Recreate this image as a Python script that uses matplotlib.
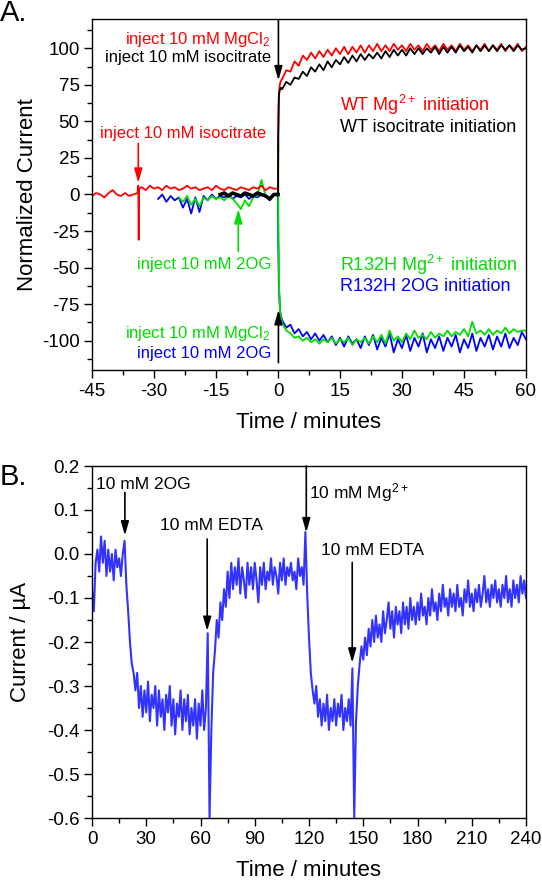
import numpy as np
import matplotlib
matplotlib.use("Agg")
import matplotlib.pyplot as plt
from matplotlib.ticker import MultipleLocator, FormatStrFormatter

plt.rcParams['font.family'] = ['Liberation Sans', 'DejaVu Sans']
plt.rcParams['mathtext.fontset'] = 'custom'
plt.rcParams['mathtext.rm'] = 'Liberation Sans'
plt.rcParams['mathtext.it'] = 'Liberation Sans:italic'
plt.rcParams['axes.unicode_minus'] = False

RED = '#ff0000'
GREEN = '#00dd00'
BLUE = '#0000ff'

###############################
##### PANEL A DATA ############
###############################

# WT, Mg2+ initiation (red)
red_t = np.r_[np.arange(-45, -34), -34, -33.8, -33.7, -33.6, np.arange(-33, 0),
              0, 0.05, 0.15, 0.3, 0.5, 0.75, np.arange(1, 61)]
red_v = [-1, 1, 0, -2, 1, 3, 0, -1, 1, -1, 0,
         1, 6, -31, 4,
         5, 3, 6, 4, 5, 3, 6, 4, 5, 3, 4, 6, 4, 5, 3, 4, 5,
         3, 6, 4, 3, 5, 4, 3, 5, 4, 3, 5, 4, 6, 3, 5, 4,
         4, 30, 60, 72, 76, 78,
         79, 85, 84, 91, 88, 95, 92, 97, 93, 98,
         94, 99, 95, 100, 96, 101, 96, 101, 97, 102,
         97, 102, 98, 103, 98, 102, 98, 103, 99, 102,
         98, 103, 99, 102, 98, 103, 99, 102, 98, 103,
         99, 102, 98, 103, 99, 102, 98, 102, 99, 103,
         98, 102, 99, 103, 98, 102, 99, 103, 98, 101]

# WT, isocitrate initiation (black): flat baseline, then the rise
blk_pre_t = np.arange(-14, 1)
blk_pre_v = [0, 1, -1, 1, 0, -1, 1, 0, -1, 1, 0, -1, -3, 0, 0]
blk_t = np.r_[0, 0.05, 0.2, 0.4, 0.7, np.arange(1, 61)]
blk_v = [0, 40, 68, 71, 73,
         72, 77, 75, 80, 79, 84, 81, 87, 84, 89,
         85, 91, 87, 92, 89, 94, 90, 95, 91, 96,
         92, 96, 93, 97, 93, 98, 94, 99, 95, 99,
         95, 100, 96, 100, 96, 100, 97, 101, 96, 101,
         97, 101, 97, 102, 98, 101, 97, 102, 98, 102,
         98, 102, 98, 102, 99, 102, 98, 102, 99, 100]

# R132H, 2OG initiation (blue)
blu_t = np.r_[np.arange(-29, 0), 0, 0.05, 0.2, 0.5, np.arange(1, 61)]
blu_v = [-3, 0, -5, -1, -4, -2, -9, -3, -13, -2,
         -12, -1, -4, 0, -3, -1, -2, 0, -3, -1,
         -2, 0, -3, -1, -2, 0, -1, -4, 0,
         -1, -30, -62, -80,
         -86, -91, -89, -95, -92, -97, -94, -99, -95, -100,
         -96, -101, -97, -103, -98, -104, -97, -102, -99, -105,
         -97, -103, -96, -106, -98, -104, -95, -108, -99, -105,
         -96, -107, -98, -104, -95, -108, -99, -105, -97, -107,
         -98, -104, -96, -108, -99, -105, -95, -107, -98, -104,
         -96, -106, -97, -104, -95, -105, -98, -103, -94, -99]

# R132H, Mg2+ initiation (green)
grn_t = np.r_[np.arange(-24, 0), 0, 0.05, 0.1, 0.25, 0.5, np.arange(1, 61)]
grn_v = [-2, -5, -1, -7, -3, -8, -2, -4, -1, -3,
         -2, -4, -1, -3, -6, -10, -4, -8, -2, -1,
         10, -1, -2, 0,
         1, 35, -20, -62, -80,
         -88, -93, -95, -98, -97, -100, -98, -101, -99, -102,
         -99, -101, -98, -102, -99, -101, -98, -103, -99, -101,
         -98, -102, -97, -101, -96, -102, -93, -100, -97, -101,
         -95, -99, -93, -98, -96, -99, -94, -98, -95, -97,
         -93, -97, -94, -96, -92, -97, -87, -95, -93, -96,
         -92, -96, -93, -95, -91, -95, -92, -94, -93, -93]

###############################
##### PANEL B DATA ############
###############################

b_t = np.arange(0, 241)
b_v = [-0.08, -0.13, -0.02, 0.01, -0.04, 0.04, -0.02, 0.03, -0.05, 0.01,
       -0.04, 0.00, -0.06, 0.01, -0.03, -0.01, -0.05, 0.00, 0.03, -0.07,
       -0.13, -0.20, -0.25, -0.27, -0.31, -0.27, -0.35, -0.30, -0.37, -0.31,
       -0.36, -0.29, -0.38, -0.32, -0.35, -0.30, -0.39, -0.31, -0.37, -0.33,
       -0.40, -0.32, -0.36, -0.30, -0.39, -0.33, -0.41, -0.34, -0.37, -0.31,
       -0.40, -0.33, -0.38, -0.32, -0.41, -0.35, -0.39, -0.33, -0.42, -0.34,
       -0.39, -0.31, -0.40, -0.35, -0.18, -0.60, -0.40, -0.27, -0.22, -0.15,
       -0.19, -0.11, -0.15, -0.08, -0.12, -0.04, -0.10, -0.02, -0.08, -0.03,
       -0.07, -0.01, -0.09, -0.03, -0.06, -0.10, -0.02, -0.07, -0.03, -0.08,
       -0.02, -0.06, -0.11, -0.03, -0.07, -0.02, -0.08, -0.04, -0.06, -0.01,
       -0.07, -0.03, -0.05, -0.09, -0.02, -0.06, -0.01, -0.07, -0.03, -0.05,
       -0.02, -0.06, -0.04, -0.08, -0.01, -0.05, -0.03, -0.07, 0.05, -0.09,
       -0.19, -0.27, -0.31, -0.34, -0.30, -0.37, -0.33, -0.39, -0.34, -0.38,
       -0.32, -0.40, -0.35, -0.38, -0.33, -0.39, -0.34, -0.37, -0.32, -0.40,
       -0.35, -0.38, -0.33, -0.39, -0.26, -0.60, -0.38, -0.30, -0.25, -0.21,
       -0.24, -0.19, -0.23, -0.17, -0.21, -0.15, -0.20, -0.14, -0.19, -0.16,
       -0.20, -0.13, -0.18, -0.15, -0.11, -0.17, -0.13, -0.19, -0.12, -0.16,
       -0.13, -0.18, -0.11, -0.16, -0.12, -0.17, -0.10, -0.15, -0.12, -0.16,
       -0.11, -0.15, -0.09, -0.14, -0.12, -0.16, -0.10, -0.14, -0.08, -0.13,
       -0.11, -0.15, -0.09, -0.13, -0.07, -0.12, -0.10, -0.14, -0.08, -0.12,
       -0.09, -0.13, -0.07, -0.12, -0.10, -0.14, -0.08, -0.11, -0.06, -0.12,
       -0.09, -0.13, -0.08, -0.11, -0.07, -0.12, -0.09, -0.05, -0.11, -0.08,
       -0.12, -0.07, -0.10, -0.06, -0.11, -0.08, -0.12, -0.07, -0.10, -0.05,
       -0.11, -0.08, -0.12, -0.06, -0.10, -0.07, -0.11, -0.05, -0.09, -0.06,
       -0.10]

###############################
##### FIGURE ##################
###############################

W, H = 542, 880
fig = plt.figure(figsize=(W / 100, H / 100), dpi=100)


def box(left, top, right, bottom):
    return [left / W, 1 - bottom / H, (right - left) / W, (bottom - top) / H]


axA = fig.add_axes(box(92, 19, 526, 370))
axB = fig.add_axes(box(92, 466, 526, 818))

for ax in (axA, axB):
    for s in ax.spines.values():
        s.set_linewidth(1.0)
    ax.tick_params(which='both', direction='out', top=False, right=False,
                   labelsize=13.5, width=1.0, pad=3)
    ax.tick_params(which='major', length=6)
    ax.tick_params(which='minor', length=3.5)


def arrow(ax, x, y0, y1, color):
    ax.annotate('', xy=(x, y1), xytext=(x, y0),
                arrowprops=dict(arrowstyle='-|>,head_length=0.7,head_width=0.2',
                                mutation_scale=12, color=color, lw=1.2,
                                shrinkA=0, shrinkB=0))


# ---- panel A
axA.plot(blu_t, blu_v, color=BLUE, lw=1.3)
axA.plot(grn_t, grn_v, color=GREEN, lw=1.3)
axA.plot(red_t, red_v, color=RED, lw=1.3)
axA.plot(blk_pre_t, blk_pre_v, color='black', lw=2.6)
axA.plot(blk_t, blk_v, color='black', lw=1.3)

axA.set_xlim(-45, 60)
axA.set_ylim(-120, 120)
axA.xaxis.set_major_locator(MultipleLocator(15))
axA.xaxis.set_minor_locator(MultipleLocator(7.5))
axA.yaxis.set_major_locator(MultipleLocator(25))
axA.yaxis.set_minor_locator(MultipleLocator(12.5))
axA.set_yticks([-100, -75, -50, -25, 0, 25, 50, 75, 100])
axA.set_xlabel('Time / minutes', fontsize=16)
axA.set_ylabel('Normalized Current', fontsize=16)

arrow(axA, 0.1, 119, 78, 'black')
arrow(axA, 0.1, -115, -79, 'black')
arrow(axA, -33.8, 35, 8, RED)
arrow(axA, -9.6, -39, -10, GREEN)

fs = 12
axA.text(-1.7, 106, 'inject 10 mM MgCl$_2$', color=RED, fontsize=fs, ha='right', va='center')
axA.text(-1.7, 94, 'inject 10 mM isocitrate', color='black', fontsize=fs, ha='right', va='center')
axA.text(-43, 42, 'inject 10 mM isocitrate', color=RED, fontsize=fs, ha='left', va='center')
axA.text(-34, -48, 'inject 10 mM 2OG', color=GREEN, fontsize=fs, ha='left', va='center')
axA.text(-1.7, -95, 'inject 10 mM MgCl$_2$', color=GREEN, fontsize=fs, ha='right', va='center')
axA.text(-1.7, -108.5, 'inject 10 mM 2OG', color=BLUE, fontsize=fs, ha='right', va='center')

fl = 13
axA.text(15, 61, 'WT Mg$^{2+}$ initiation', color=RED, fontsize=fl, ha='left', va='center')
axA.text(15, 46, 'WT isocitrate initiation', color='black', fontsize=fl, ha='left', va='center')
axA.text(15, -48, 'R132H Mg$^{2+}$ initiation', color=GREEN, fontsize=fl, ha='left', va='center')
axA.text(15, -63, 'R132H 2OG initiation', color=BLUE, fontsize=fl, ha='left', va='center')

# ---- panel B
axB.plot(b_t, b_v, color=BLUE, lw=1.5, alpha=0.8)
axB.set_xlim(0, 240)
axB.set_ylim(-0.6, 0.2)
axB.xaxis.set_major_locator(MultipleLocator(30))
axB.xaxis.set_minor_locator(MultipleLocator(15))
axB.yaxis.set_major_locator(MultipleLocator(0.1))
axB.yaxis.set_minor_locator(MultipleLocator(0.05))
axB.yaxis.set_major_formatter(FormatStrFormatter('%.1f'))
axB.set_xlabel('Time / minutes', fontsize=16)
axB.set_ylabel('Current / \u00b5A', fontsize=16)

arrow(axB, 18.2, 0.14, 0.042, 'black')
arrow(axB, 63.7, 0.034, -0.175, 'black')
arrow(axB, 118.5, 0.2, 0.049, 'black')
arrow(axB, 143.9, -0.019, -0.247, 'black')

fb = 12.5
axB.text(2.3, 0.159, '10 mM 2OG', fontsize=fb, ha='left', va='center')
axB.text(37.7, 0.065, '10 mM EDTA', fontsize=fb, ha='left', va='center')
axB.text(120, 0.14, '10 mM Mg$^{2+}$', fontsize=fb, ha='left', va='center')
axB.text(126.7, 0.008, '10 mM EDTA', fontsize=fb, ha='left', va='center')

axA.yaxis.set_label_coords(-0.125, 0.5)
axB.yaxis.set_label_coords(-0.14, 0.5)
axA.xaxis.set_label_coords(0.5, -0.12)
axB.xaxis.set_label_coords(0.5, -0.12)

fig.text(0.0, 1 - 13 / H, 'A.', fontsize=21, ha='left', va='center')
fig.text(0.0, 1 - 477 / H, 'B.', fontsize=21, ha='left', va='center')

fig.savefig('out.png', dpi=100)
